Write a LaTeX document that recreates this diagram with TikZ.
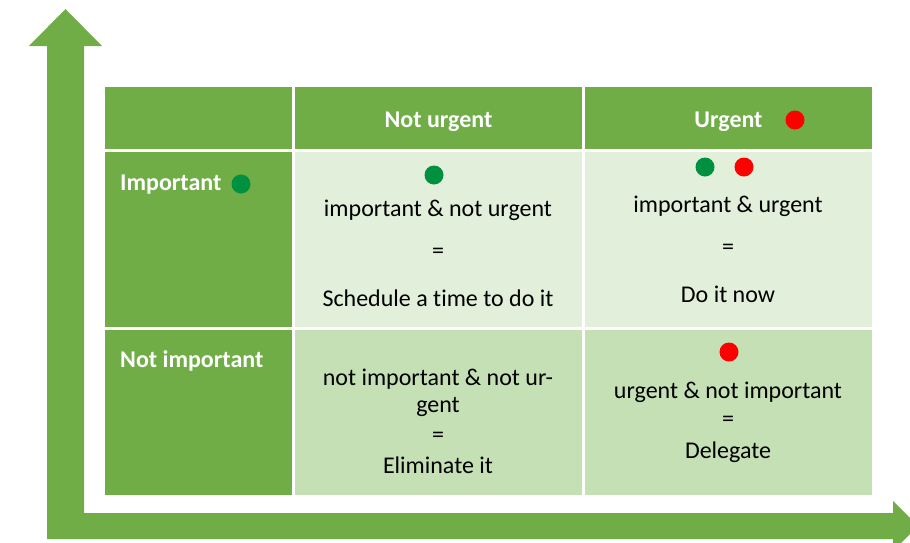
\documentclass[tikz,border=0pt]{standalone}
\usepackage{fontspec}
\setmainfont{Carlito}[Ligatures={NoCommon}]
\definecolor{dkgreen}{RGB}{112,173,71}
\definecolor{ltgreen}{RGB}{226,239,218}
\definecolor{mdgreen}{RGB}{197,224,180}
\definecolor{dotgreen}{RGB}{0,145,64}
\definecolor{dotred}{RGB}{255,0,0}
\tikzset{
  hdr/.style={font=\fontsize{24}{28}\selectfont\bfseries, text=white, inner sep=0pt, anchor=base},
  body/.style={font=\fontsize{24}{28}\selectfont, text=black, inner sep=0pt, anchor=base},
  eq/.style={font=\fontsize{24}{28}\selectfont, text=black, inner sep=0pt, anchor=center},
  gdot/.style={circle, fill=dotgreen, minimum size=19pt, inner sep=0pt},
  rdot/.style={circle, fill=dotred, minimum size=19pt, inner sep=0pt},
}
\begin{document}
\begin{tikzpicture}[x=1pt,y=-1pt]
\useasboundingbox (0,0) rectangle (910,542);
\clip (0,0) rectangle (910,542);
% axis arrow
\fill[dkgreen] (47,46) -- (29,46) -- (65.5,9) -- (102,46) -- (84,46) -- (84,513)
  -- (893,513) -- (893,501) -- (918,526) -- (893,551) -- (893,539) -- (47,539) -- cycle;
% table cells
\fill[dkgreen] (105,87) rectangle (292,149);
\fill[dkgreen] (295,87) rectangle (582,149);
\fill[dkgreen] (585,87) rectangle (872,149);
\fill[dkgreen] (105,152) rectangle (292,327);
\fill[ltgreen] (295,152) rectangle (582,327);
\fill[ltgreen] (585,152) rectangle (872,327);
\fill[dkgreen] (105,330) rectangle (292,495);
\fill[mdgreen] (295,330) rectangle (582,495);
\fill[mdgreen] (585,330) rectangle (872,495);
% headers
\node[hdr] (nu) at (438.5,127) {Not urgent};
\node[hdr] (ur) at (728.5,127) {Urgent};
\node[rdot] (urd) at (795,120) {};
\node[hdr, anchor=base west] (imp) at (120,190) {Important};
\node[gdot] (impd) at (241,184) {};
\node[hdr, anchor=base west] (nimp) at (120,367) {Not important};
% row 2 col 2
\node[gdot] (d1) at (434,175) {};
\node[body] (a1) at (438,216) {important \& not urgent};
\node[eq] (a2) at (438,253) {=};
\node[body] (a3) at (438,306) {Schedule a time to do it};
% row 2 col 3
\node[gdot] (d2) at (705,167) {};
\node[rdot] (d3) at (744,167) {};
\node[body] (b1) at (728,212) {important \& urgent};
\node[eq] (b2) at (728,249) {=};
\node[body] (b3) at (728,302) {Do it now};
% row 3 col 2
\node[body] (c1) at (438,385) {not important \& not ur-};
\node[body] (c2) at (438,412) {gent};
\node[eq] (c3) at (438,437) {=};
\node[body] (c4) at (438,473) {Eliminate it};
% row 3 col 3
\node[rdot] (d4) at (729,352) {};
\node[body] (e1) at (728,398) {urgent \& not important};
\node[eq] (e2) at (728,421) {=};
\node[body] (e3) at (728,458) {Delegate};
\end{tikzpicture}
\end{document}
